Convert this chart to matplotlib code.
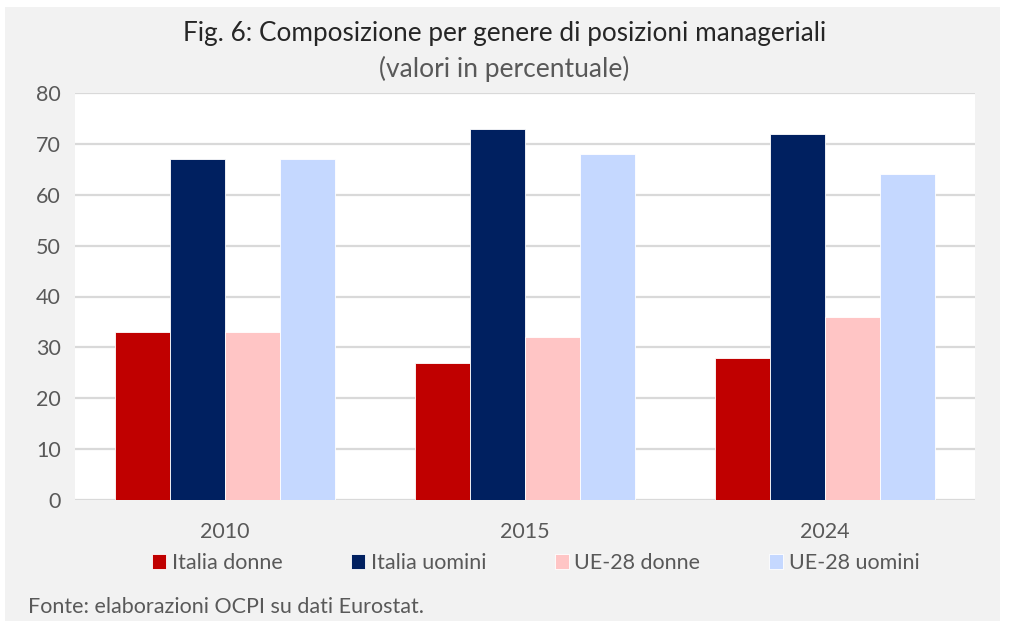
import matplotlib
matplotlib.use("Agg")
import matplotlib.pyplot as plt
import numpy as np
from matplotlib.patches import Rectangle

categories = ["2010", "2015", "2024"]
series_names = ["Italia donne", "Italia uomini", "UE-28 donne", "UE-28 uomini"]
italia_donne = [33, 27, 28]
italia_uomini = [67, 73, 72]
ue_donne = [33, 32, 36]
ue_uomini = [67, 68, 64]
colors = ["#C00000", "#002060", "#FFC5C5", "#C5D8FF"]

plt.rcParams['font.family'] = ['Lato', 'DejaVu Sans']
txt = "#595959"

fig = plt.figure(figsize=(10.09, 6.23), dpi=100)
fig.patch.set_facecolor("white")
fig.patches.append(Rectangle((5/1009, 2/623), 995/1009, 614/623, transform=fig.transFigure,
                             facecolor="#F2F2F2", edgecolor="none", zorder=-10))
ax = fig.add_axes([75/1009, 1-500/623, 900/1009, 407/623])
ax.set_facecolor("white")

x = np.arange(len(categories))
w = 0.1833
data = [italia_donne, italia_uomini, ue_donne, ue_uomini]
for i, (vals, c, n) in enumerate(zip(data, colors, series_names)):
    ax.bar(x + (i - 1.5) * w, vals, w, color=c, label=n, edgecolor="white", linewidth=0.6, zorder=3)

ax.set_xlim(-0.5, 2.5)
ax.set_ylim(0, 80)
ax.set_yticks(range(0, 81, 10))
ax.yaxis.grid(True, color="#D9D9D9", linewidth=1.6, zorder=0)
ax.set_axisbelow(True)
for s in ax.spines.values():
    s.set_visible(False)
ax.tick_params(axis="both", length=0, labelsize=15.5, labelcolor=txt)
ax.tick_params(axis="y", pad=10)
ax.tick_params(axis="x", pad=16)
ax.set_xticks(x)
ax.set_xticklabels(categories)

fig.text(0.5, 1-33/623, "Fig. 6: Composizione per genere di posizioni manageriali", ha="center", va="center",
         fontsize=18.8, color="#262626")
fig.text(0.5, 1-69/623, "(valori in percentuale)", ha="center", va="center", fontsize=19,
         color=txt)

leg = fig.legend(loc="center", bbox_to_anchor=(0.531, 1-563/623), ncol=4, frameon=False,
                 prop={"size": 15.5}, labelcolor=txt, handlelength=0.65,
                 handleheight=0.7, handletextpad=0.25, columnspacing=3.2)

fig.text(28/1009, 1-607/623, "Fonte: elaborazioni OCPI su dati Eurostat.", ha="left", va="center",
         fontsize=15.5, color=txt)

fig.savefig("out.png", dpi=100, facecolor=fig.get_facecolor())
